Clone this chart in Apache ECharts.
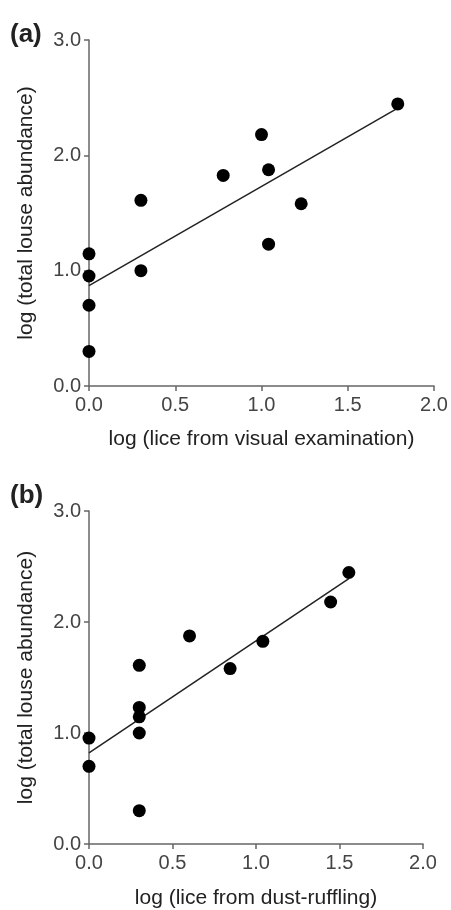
<!DOCTYPE html>
<html>
<head>
<meta charset="utf-8">
<script src="https://cdn.jsdelivr.net/npm/echarts@6/dist/echarts.min.js"></script>
<style>
html,body{margin:0;padding:0;background:#fff;}
#chart{width:451px;height:910px;}
</style>
</head>
<body>
<div id="chart"></div>
<script>
// Panel (a): log(lice from visual examination) vs log(total louse abundance)
var visualX = [0, 0, 0, 0, 0.301, 0.301, 0.778, 1.0, 1.041, 1.041, 1.23, 1.79];
var visualY = [0.30, 0.70, 0.954, 1.146, 1.0, 1.61, 1.826, 2.18, 1.875, 1.23, 1.58, 2.446];
var fitA = [[0, 0.87], [1.79, 2.41]];

// Panel (b): log(lice from dust-ruffling) vs log(total louse abundance)
var dustX = [0, 0, 0.301, 0.301, 0.301, 0.301, 0.301, 0.602, 0.845, 1.041, 1.447, 1.556];
var dustY = [0.954, 0.70, 0.30, 1.0, 1.146, 1.23, 1.61, 1.875, 1.58, 1.826, 2.18, 2.446];
var fitB = [[0, 0.82], [1.556, 2.39]];

var xTicks = ['0.0', '0.5', '1.0', '1.5', '2.0'];
var yTicks = ['0.0', '1.0', '2.0', '3.0'];

function pairs(xs, ys) { return xs.map(function (x, i) { return [x, ys[i]]; }); }

var FONT = '"Liberation Sans", Arial, Helvetica, sans-serif';

function xAxis(idx, name, gap) {
  return {
    type: 'value', gridIndex: idx, min: 0, max: 2, interval: 0.5,
    name: name, nameLocation: 'middle', nameGap: gap,
    nameTextStyle: { fontFamily: FONT, fontSize: 21, color: '#222' },
    axisLine: { show: true, lineStyle: { color: '#666', width: 1.5 } },
    axisTick: { show: true, length: 5, lineStyle: { color: '#666', width: 1.5 } },
    axisLabel: { margin: 9, fontFamily: FONT, fontSize: 20, color: '#444',
      formatter: function (v) { return xTicks[Math.round(v / 0.5)]; } },
    splitLine: { show: false }
  };
}
function yAxis(idx, name) {
  return {
    type: 'value', gridIndex: idx, min: 0, max: 3, interval: 1,
    name: name, nameLocation: 'middle', nameGap: 52,
    nameTextStyle: { fontFamily: FONT, fontSize: 21, color: '#222' },
    axisLine: { show: true, lineStyle: { color: '#666', width: 1.5 } },
    axisTick: { show: true, length: 5, lineStyle: { color: '#666', width: 1.5 } },
    axisLabel: { margin: 8, fontFamily: FONT, fontSize: 20, color: '#444',
      formatter: function (v) { return yTicks[Math.round(v)]; } },
    splitLine: { show: false }
  };
}

var chart = echarts.init(document.getElementById('chart'), null, { renderer: 'canvas' });
chart.setOption({
  backgroundColor: '#fff',
  animation: false,
  title: [
    { text: '(a)', left: 5, top: 17, textStyle: { fontFamily: FONT, fontSize: 26, fontWeight: 'bold', color: '#222' } },
    { text: '(b)', left: 5, top: 478, textStyle: { fontFamily: FONT, fontSize: 26, fontWeight: 'bold', color: '#222' } }
  ],
  grid: [
    { left: 89, top: 40, width: 345, height: 346 },
    { left: 89, top: 511, width: 334, height: 333 }
  ],
  xAxis: [
    xAxis(0, 'log (lice from visual examination)', 43),
    xAxis(1, 'log (lice from dust-ruffling)', 44)
  ],
  yAxis: [
    yAxis(0, 'log (total louse abundance)'),
    yAxis(1, 'log (total louse abundance)')
  ],
  series: [
    { type: 'line', xAxisIndex: 0, yAxisIndex: 0, data: fitA, showSymbol: false,
      lineStyle: { color: '#222', width: 1.5 }, silent: true, z: 2 },
    { type: 'scatter', xAxisIndex: 0, yAxisIndex: 0, data: pairs(visualX, visualY),
      symbol: 'circle', symbolSize: 13, itemStyle: { color: '#000', opacity: 1 }, z: 3 },
    { type: 'line', xAxisIndex: 1, yAxisIndex: 1, data: fitB, showSymbol: false,
      lineStyle: { color: '#222', width: 1.5 }, silent: true, z: 2 },
    { type: 'scatter', xAxisIndex: 1, yAxisIndex: 1, data: pairs(dustX, dustY),
      symbol: 'circle', symbolSize: 13, itemStyle: { color: '#000', opacity: 1 }, z: 3 }
  ]
});
</script>
</body>
</html>
